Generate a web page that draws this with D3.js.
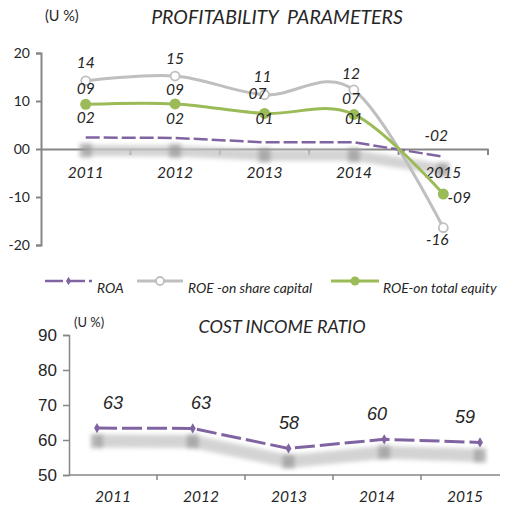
<!DOCTYPE html>
<html><head><meta charset="utf-8">
<script src="https://cdn.jsdelivr.net/npm/d3@7"></script>
<style>body{margin:0;background:#fff}svg{display:block}</style>
</head><body>
<script>
const years = ["2011","2012","2013","2014","2015"];
const roa = [2.4, 2.3, 1.4, 1.4, -1.6];
const roeShare = [14.2, 15.2, 11.3, 12.3, -16.4];
const roeEquity = [9.3, 9.4, 7.4, 7.2, -9.4];
const topTicks = [20, 10, 0, -10, -20];
const costIncome = [63.4, 63.3, 57.6, 60.2, 59.3];
const bottomTicks = [90, 80, 70, 60, 50];

const W = 508, H = 509;
const svg = d3.select("body").append("svg").attr("width", W).attr("height", H);
const FONT = "Lato, 'Open Sans', sans-serif";
const NARROW = "'Liberation Sans Narrow', 'Liberation Sans', Arial, sans-serif";
const txt = "#262626", axisCol = "#868686";
const purple = "#8064A2", grayC = "#BFBFBF", green = "#9BBB59";

const defs = svg.append("defs");
defs.append("filter").attr("id","blur").attr("x","-20%").attr("y","-50%").attr("width","140%").attr("height","200%")
  .append("feGaussianBlur").attr("stdDeviation", 2.2);

const fmt2 = v => { const r = Math.round(v); return (r < 0 ? "-" : "") + String(Math.abs(r)).padStart(2, "0"); };

// ---------- TOP CHART ----------
const yT = d3.scaleLinear().domain([-20, 20]).range([245, 53]);
const xT = d3.scaleBand().domain(years).range([41, 488]);
const cx = d => xT(d) + xT.bandwidth() / 2;

svg.append("text").attr("x", 45).attr("y", 21).attr("font-family", FONT).attr("font-size", 14.5).attr("fill", txt).text("(U %)");
svg.append("text").attr("x", 277).attr("y", 24).attr("text-anchor","middle").attr("font-family", FONT)
  .attr("font-style","italic").attr("font-size", 19.5).attr("fill", txt).attr("xml:space","preserve").text("PROFITABILITY  PARAMETERS");

// y axis
const gyT = svg.append("g").attr("transform", "translate(41,0)")
  .call(d3.axisLeft(yT).tickValues(topTicks).tickSize(5).tickPadding(6).tickFormat(fmt2));
gyT.select(".domain").attr("stroke", axisCol).attr("stroke-width", 2);
gyT.selectAll(".tick line").attr("stroke", axisCol).attr("stroke-width", 2);
gyT.selectAll(".tick text").attr("font-family", FONT).attr("font-size", 14).attr("fill", txt);

// x axis at zero
const gxT = svg.append("g").attr("transform", `translate(0,${yT(0)})`)
  .call(d3.axisBottom(xT).tickSize(0).tickFormat(""));
gxT.select(".domain").attr("stroke", axisCol).attr("stroke-width", 2);
const bounds = years.map(y => xT(y) + xT.bandwidth());
svg.append("g").selectAll("line").data(bounds).join("line")
  .attr("x1", d => d).attr("x2", d => d).attr("y1", yT(0)).attr("y2", yT(0) + 6)
  .attr("stroke", axisCol).attr("stroke-width", 2);

// ROA shadow
const lineRoa = d3.line().x((d, i) => cx(years[i])).y(d => yT(d));
const shT = svg.append("g").attr("transform","translate(0,13)").attr("filter","url(#blur)");
shT.append("path").attr("d", lineRoa(roa)).attr("fill","none").attr("stroke","#c8c8c8").attr("stroke-width", 11).attr("opacity",0.8);
shT.selectAll("rect").data(roa).join("rect")
  .attr("x", (d,i) => cx(years[i]) - 6).attr("y", d => yT(d) - 7).attr("width", 12).attr("height", 14)
  .attr("fill", "#999").attr("opacity", 0.7);

// x labels
svg.append("g").selectAll("text").data(years).join("text")
  .attr("x", d => cx(d)).attr("y", 178).attr("text-anchor","middle")
  .attr("font-family", FONT).attr("font-style","italic").attr("font-size", 15.5).attr("fill", txt).text(d => d);

// ROA line
svg.append("path").attr("d", lineRoa(roa)).attr("fill","none").attr("stroke", purple)
  .attr("stroke-width", 2.5).attr("stroke-dasharray","14,4");

// ROE lines (smooth)
const smooth = d3.line().x((d, i) => cx(years[i])).y(d => yT(d)).curve(d3.curveCatmullRom.alpha(0));
svg.append("path").attr("d", smooth(roeShare)).attr("fill","none").attr("stroke", grayC).attr("stroke-width", 3);
svg.append("path").attr("d", smooth(roeEquity)).attr("fill","none").attr("stroke", green).attr("stroke-width", 3);
svg.append("g").selectAll("circle").data(roeShare).join("circle")
  .attr("cx", (d,i) => cx(years[i])).attr("cy", d => yT(d)).attr("r", 4.5)
  .attr("fill", "#fff").attr("stroke", grayC).attr("stroke-width", 1.8);
svg.append("g").selectAll("circle").data(roeEquity).join("circle")
  .attr("cx", (d,i) => cx(years[i])).attr("cy", d => yT(d)).attr("r", 5.5).attr("fill", green);

// data labels
function labels(data, dx, dy) {
  svg.append("g").selectAll("text").data(data).join("text")
    .attr("x", (d,i) => cx(years[i]) + dx[i]).attr("y", (d,i) => yT(d) + dy[i])
    .attr("text-anchor","middle").attr("dominant-baseline","central")
    .attr("font-family", FONT).attr("font-style","italic").attr("font-size", 15.5).attr("fill", txt)
    .text(d => fmt2(d));
}
labels(roeShare, [0,0,-2,-3,-6], [-19,-18,-19,-17,11]);
labels(roeEquity, [0,0,-7,-3,16], [-16,-15,-20,-16,3]);
labels(roa, [0,0,0,0,-7], [-20,-20,-24,-24,-22]);

// legend
const lg = svg.append("g");
const legendItems = [
  {x1:45, x2:92, label:"ROA", tx:97, type:"diamond", col:purple},
  {x1:137, x2:183, label:"ROE -on share capital", tx:188, type:"open", col:grayC},
  {x1:331, x2:379, label:"ROE-on total equity", tx:383, type:"dot", col:green}
];
legendItems.forEach(it => {
  const ly = 281;
  const ln = lg.append("line").attr("x1", it.x1).attr("x2", it.x2).attr("y1", ly).attr("y2", ly)
    .attr("stroke", it.col).attr("stroke-width", it.type === "diamond" ? 2.5 : 3);
  if (it.type === "diamond") ln.attr("stroke-dasharray", "18,4");
  const mx = (it.x1 + it.x2) / 2;
  if (it.type === "diamond") lg.append("path").attr("d", d3.symbol(d3.symbolDiamond, 22)()).attr("transform", `translate(${mx},${ly})`).attr("fill", it.col);
  if (it.type === "open") lg.append("circle").attr("cx", mx).attr("cy", ly).attr("r", 4).attr("fill","#fff").attr("stroke", it.col).attr("stroke-width", 1.8);
  if (it.type === "dot") lg.append("circle").attr("cx", mx).attr("cy", ly).attr("r", 4.5).attr("fill", it.col);
  lg.append("text").attr("x", it.tx).attr("y", 293).attr("font-family", FONT).attr("font-style","italic")
    .attr("font-size", 13.8).attr("fill", txt).text(it.label);
});

// ---------- BOTTOM CHART ----------
const yB = d3.scaleLinear().domain([50, 90]).range([475, 335]);
const xBband = d3.scaleBand().domain(years).range([69, 509]);
const xBpt = d3.scalePoint().domain(years).range([97, 480]);

svg.append("text").attr("x", 74).attr("y", 327).attr("font-family", FONT).attr("font-size", 13).attr("fill", txt).text("(U %)");
svg.append("text").attr("x", 282).attr("y", 333).attr("text-anchor","middle").attr("font-family", FONT)
  .attr("font-style","italic").attr("font-size", 18).attr("fill", txt).text("COST INCOME RATIO");

const gyB = svg.append("g").attr("transform", "translate(69,0)")
  .call(d3.axisLeft(yB).tickValues(bottomTicks).tickSize(6).tickPadding(6));
gyB.select(".domain").attr("stroke", axisCol).attr("stroke-width", 1.5);
gyB.selectAll(".tick line").attr("stroke", axisCol).attr("stroke-width", 1.5);
gyB.selectAll(".tick text").attr("font-family", NARROW).attr("font-size", 17).attr("fill", txt);

svg.append("line").attr("x1", 69).attr("x2", 500).attr("y1", yB(50)).attr("y2", yB(50)).attr("stroke", axisCol).attr("stroke-width", 1.5);
svg.append("g").selectAll("line").data(years.slice(1)).join("line")
  .attr("x1", d => xBband(d)).attr("x2", d => xBband(d)).attr("y1", yB(50)).attr("y2", yB(50) + 5)
  .attr("stroke", axisCol).attr("stroke-width", 1.5);

// shadow
const lineB = d3.line().x((d,i) => xBpt(years[i])).y(d => yB(d));
const shB = svg.append("g").attr("transform","translate(0,13)").attr("filter","url(#blur)");
shB.append("path").attr("d", lineB(costIncome)).attr("fill","none").attr("stroke","#c8c8c8").attr("stroke-width", 13).attr("opacity",0.8);
shB.selectAll("rect").data(costIncome).join("rect")
  .attr("x", (d,i) => xBpt(years[i]) - 6).attr("y", d => yB(d) - 7).attr("width", 12).attr("height", 14)
  .attr("fill", "#999").attr("opacity", 0.7);

svg.append("path").attr("d", lineB(costIncome)).attr("fill","none").attr("stroke", purple)
  .attr("stroke-width", 3).attr("stroke-dasharray","20,5");
svg.append("g").selectAll("path").data(costIncome).join("path")
  .attr("d", d3.symbol(d3.symbolDiamond, 30)()).attr("transform", (d,i) => `translate(${xBpt(years[i])},${yB(d)})`).attr("fill", purple);

svg.append("g").selectAll("text").data(costIncome).join("text")
  .attr("x", (d,i) => xBband(years[i]) + xBband.bandwidth()/2).attr("y", d => yB(d) - 25)
  .attr("text-anchor","middle").attr("dominant-baseline","central")
  .attr("font-family", NARROW).attr("font-style","italic").attr("font-size", 18).attr("fill", txt)
  .text(d => Math.round(d));

svg.append("g").selectAll("text").data(years).join("text")
  .attr("x", d => xBband(d) + xBband.bandwidth()/2).attr("y", 502).attr("text-anchor","middle")
  .attr("font-family", FONT).attr("font-style","italic").attr("font-size", 15.5).attr("fill", txt).text(d => d);
</script>
</body></html>
